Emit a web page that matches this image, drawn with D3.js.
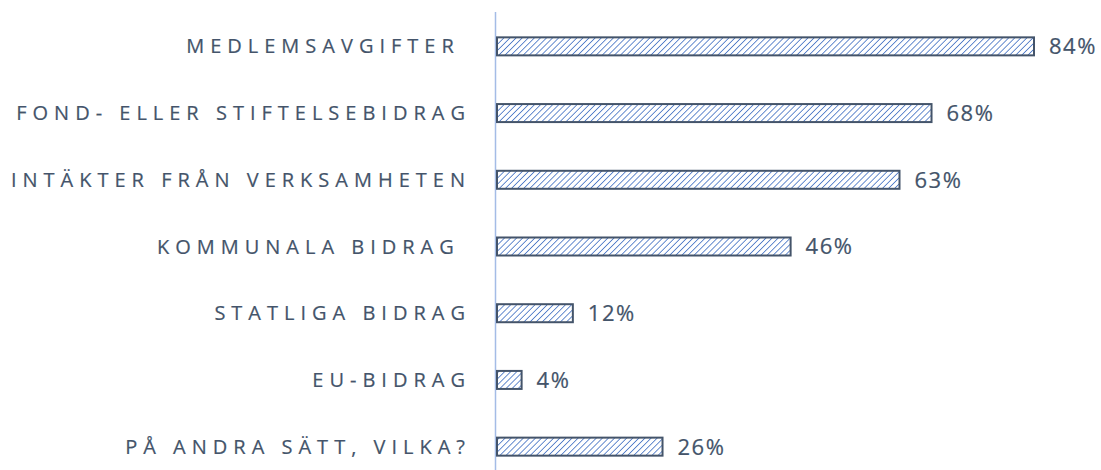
<!DOCTYPE html>
<html>
<head>
<meta charset="utf-8">
<script src="https://cdn.jsdelivr.net/npm/d3@7"></script>
<style>
  body { margin: 0; background: #fff; }
  svg { display: block; }
  .cat { font-family: "Open Sans", sans-serif; font-size: 20px; letter-spacing: 6px; fill: #44546a; stroke: #44546a; stroke-width: 0.2px; white-space: pre; }
  .val { font-family: "Open Sans", sans-serif; font-size: 22px; letter-spacing: 1.5px; fill: #44546a; stroke: #44546a; stroke-width: 0.2px; }
</style>
</head>
<body>
<script>
var categories = [
  "MEDLEMSAVGIFTER ",
  "FOND- ELLER STIFTELSEBIDRAG",
  "INTÄKTER FRÅN VERKSAMHETEN",
  "KOMMUNALA BIDRAG ",
  "STATLIGA BIDRAG",
  "EU-BIDRAG",
  "PÅ ANDRA SÄTT, VILKA?"
];
var values = [84, 68, 63, 46, 12, 4, 26];

var width = 1101, height = 470;

var svg = d3.select("body").append("svg")
  .attr("width", width)
  .attr("height", height);

var defs = svg.append("defs");
var pat = defs.append("pattern")
  .attr("id", "hatch")
  .attr("patternUnits", "userSpaceOnUse")
  .attr("width", 4.3)
  .attr("height", 4.3)
  .attr("patternTransform", "rotate(45)");
pat.append("rect").attr("width", 4.3).attr("height", 4.3).attr("fill", "#fff");
pat.append("line")
  .attr("x1", 0).attr("y1", 0).attr("x2", 0).attr("y2", 4.3)
  .attr("stroke", "#4472c4")
  .attr("stroke-width", 1.6);

var x = d3.scaleLinear().domain([0, 84]).range([496, 1034]);
var y = d3.scaleBand()
  .domain(categories)
  .range([13, 480])
  .paddingInner(0.73)
  .paddingOuter(0.365);

// axis line
svg.append("line")
  .attr("x1", 495.5).attr("x2", 495.5)
  .attr("y1", 12).attr("y2", height)
  .attr("stroke", "#a4bce6")
  .attr("stroke-width", 1.5);

var data = categories.map(function (c, i) {
  return { cat: c, value: values[i] };
});

svg.selectAll(".bar")
  .data(data)
  .enter().append("rect")
  .attr("class", "bar")
  .attr("x", x(0) + 1)
  .attr("y", function (d) { return y(d.cat); })
  .attr("width", function (d) { return x(d.value) - x(0) - 1; })
  .attr("height", y.bandwidth())
  .attr("fill", "url(#hatch)")
  .attr("stroke", "#44546a")
  .attr("stroke-width", 2);

svg.selectAll(".cat")
  .data(data)
  .enter().append("text")
  .attr("class", "cat")
  .attr("x", 471)
  .attr("y", function (d) { return y(d.cat) + y.bandwidth() / 2; })
  .attr("dy", "0.35em")
  .attr("text-anchor", "end")
  .text(function (d) { return d.cat; });

svg.selectAll(".val")
  .data(data)
  .enter().append("text")
  .attr("class", "val")
  .attr("x", function (d) { return x(d.value) + 15; })
  .attr("y", function (d) { return y(d.cat) + y.bandwidth() / 2; })
  .attr("dy", "0.36em")
  .text(function (d) { return d.value + "%"; });
</script>
</body>
</html>
